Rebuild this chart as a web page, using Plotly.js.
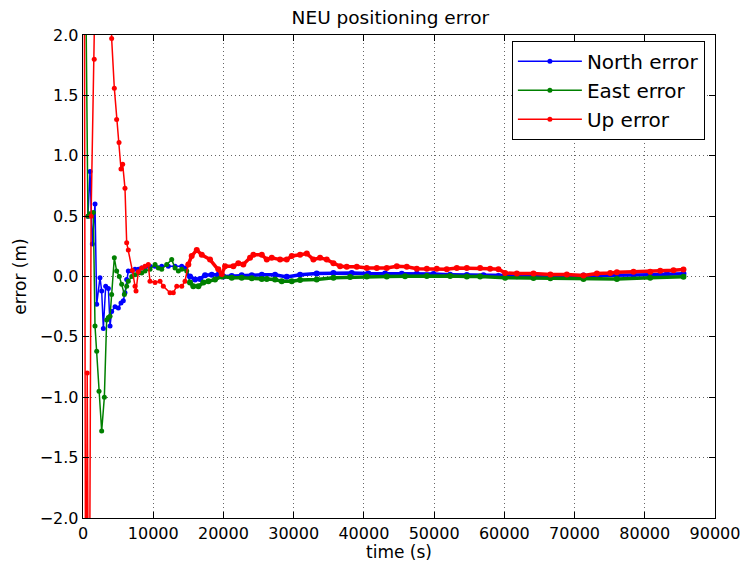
<!DOCTYPE html>
<html>
<head>
<meta charset="utf-8">
<script src="https://cdn.plot.ly/plotly-3.0.1.min.js"></script>
<style>html,body{margin:0;padding:0;background:#fff;}#chart{width:745px;height:562px;}</style>
</head>
<body>
<div id="chart"></div>
<script>
// North error
var northT = [700, 1000, 1330, 1710, 1950, 2420, 2660, 2900, 3230, 3610,
  3850, 4080, 4560, 5030, 5410, 5740, 5980, 6220, 6450, 6940,
  7410, 7880, 8360, 8830, 9540, 10260, 11210, 12150, 13110, 14060,
  14530, 15240, 15950, 16670, 17380, 18330, 19270, 19990, 21180, 22600,
  24030, 25460, 27350, 29020, 30910, 33280, 35660, 38270, 40640, 43020,
  45390, 47540, 49900, 52280, 54660, 57030, 59160, 61780, 64150, 66560,
  68900, 71270, 73650, 76030, 78390, 80770, 83150, 85510];
var northV = [0.5, 0.87, 0.27, 0.6, -0.23, -0.01, -0.12, -0.43, -0.08, -0.1,
  -0.41, -0.29, -0.25, -0.26, -0.22, -0.2, -0.135, -0.025, 0.045, 0.045,
  0.06, 0.06, 0.07, 0.07, 0.085, 0.085, 0.085, 0.085, 0.085, 0.085,
  0.07, 0.0, -0.025, -0.02, 0.01, 0.015, 0.015, 0.0, 0.005, 0.01,
  0.01, 0.015, 0.015, -0.003, 0.015, 0.025, 0.03, 0.03, 0.025, 0.025,
  0.022, 0.022, 0.02, 0.015, 0.012, 0.01, 0.005, 0.003, 0.005, 0.005,
  0.005, 0.008, 0.01, 0.01, 0.012, 0.015, 0.02, 0.022];

// East error
var eastT = [300, 700, 1000, 1470, 1710, 1950, 2280, 2660, 3040, 3370,
  3610, 3850, 4080, 4460, 4790, 5170, 5510, 5890, 6220, 6450,
  6940, 7410, 7880, 8360, 8830, 9540, 10260, 10730, 11210, 11920,
  12630, 13110, 13580, 14060, 14770, 15240, 15710, 16430, 17140, 17850,
  18800, 19760, 21180, 22600, 24030, 25460, 26170, 27350, 28300, 29730,
  30910, 33280, 35660, 38040, 40410, 43260, 45860, 48960, 52280, 54660,
  56550, 60110, 64150, 66560, 71270, 76030, 80770, 85510];
var eastV = [3.0, 0.5, 0.52, 0.53, -0.41, -0.62, -0.95, -1.28, -1.0, -0.36,
  -0.34, -0.33, -0.15, 0.155, 0.045, 0.0, -0.065, -0.15, -0.08, -0.04,
  0.0, 0.015, 0.03, 0.03, 0.045, 0.06, 0.1, 0.07, 0.06, 0.1,
  0.14, 0.07, 0.045, 0.06, 0.045, -0.05, -0.08, -0.08, -0.05, -0.04,
  -0.025, 0.0, -0.01, -0.01, -0.015, -0.02, -0.02, -0.025, -0.04, -0.04,
  -0.03, -0.025, -0.01, -0.005, 0.0, 0.0, 0.003, 0.005, 0.005, 0.0,
  0.0, -0.01, -0.012, -0.015, -0.02, -0.02, -0.01, -0.003];

// Up error
var upT = [150, 400, 600, 850, 1150, 1600, 1800, 2500, 3500, 4080,
  4460, 4790, 5130, 5410, 5650, 5980, 6220, 6450, 7020, 7410,
  7550, 7880, 8360, 8830, 9300, 9540, 10260, 10970, 11440, 12390,
  12860, 13350, 14060, 14530, 15000, 15480, 16200, 16910, 18090, 19270,
  19760, 20230, 21410, 22120, 22830, 23790, 24260, 25460, 26170, 26880,
  28060, 29020, 29730, 30910, 31870, 32810, 33760, 34710, 35660, 36610,
  37560, 38990, 40410, 41840, 43260, 44690, 46110, 47540, 48960, 50380,
  51800, 53230, 54660, 56550, 57980, 59160, 60110, 61780, 64150, 66560,
  68900, 71270, 73180, 75080, 76030, 78390, 80770, 82200, 84090, 85510];
var upV = [4, -4, -0.8, -4, 0.5, 1.8, 4, 5, 4, 1.97,
  1.56, 1.30, 1.11, 0.89, 0.93, 0.73, 0.28, 0.22, 0.05, -0.08,
  -0.12, 0.04, 0.07, 0.085, 0.1, -0.04, -0.05, -0.04, -0.08, -0.135,
  -0.135, -0.08, -0.08, -0.04, 0.1, 0.17, 0.22, 0.18, 0.14, 0.06,
  0.02, 0.085, 0.085, 0.11, 0.1, 0.155, 0.18, 0.18, 0.14, 0.155,
  0.14, 0.14, 0.17, 0.18, 0.19, 0.14, 0.155, 0.14, 0.11, 0.085,
  0.08, 0.08, 0.07, 0.07, 0.07, 0.085, 0.08, 0.065, 0.065, 0.065,
  0.06, 0.07, 0.07, 0.07, 0.065, 0.06, 0.03, 0.025, 0.025, 0.017,
  0.017, 0.008, 0.025, 0.03, 0.035, 0.04, 0.04, 0.047, 0.052, 0.058];

var seriesNames = ['North error', 'East error', 'Up error'];
var seriesColors = ['#0000ff', '#008000', '#ff0000'];
var xTickVals = [0, 10000, 20000, 30000, 40000, 50000, 60000, 70000, 80000, 90000];
var yTickVals = [-2.0, -1.5, -1.0, -0.5, 0.0, 0.5, 1.0, 1.5, 2.0];
var denseFrom = 15000; // after this time the samples are dense and drawn as a thick band

var FONT = 'DejaVu Sans, Liberation Sans, sans-serif';
function split(x, y, name, color) {
  var k = x.findIndex(function (t) { return t >= denseFrom; });
  var early = {x: x.slice(0, k + 1), y: y.slice(0, k + 1), name: name, legendgroup: name,
    type: 'scatter', mode: 'lines+markers',
    line: {color: color, width: 1.5}, marker: {color: color, size: 5}};
  var late = {x: x.slice(k), y: y.slice(k), name: name, legendgroup: name, showlegend: false,
    type: 'scatter', mode: 'lines+markers',
    line: {color: color, width: 3.5}, marker: {color: color, size: 6}};
  return [late, early];
}
var groups = [[northT, northV], [eastT, eastV], [upT, upV]];
var lates = [], earlies = [];
groups.forEach(function (g, i) {
  var tr = split(g[0], g[1], seriesNames[i], seriesColors[i]);
  lates.push(tr[0]); earlies.push(tr[1]);
});
var data = earlies.concat(lates);

var axisCommon = {
  showline: true, linecolor: '#000', linewidth: 1.3, mirror: 'ticks',
  ticks: 'inside', ticklen: 6, tickcolor: '#000', tickwidth: 1,
  showgrid: true, gridcolor: '#666', gridwidth: 1, griddash: '1px,3px',
  zeroline: false, tickfont: {family: FONT, size: 16, color: '#000'}
};
var layout = {
  width: 745, height: 562,
  margin: {l: 83, r: 30, t: 35, b: 44},
  paper_bgcolor: '#fff', plot_bgcolor: '#fff',
  font: {family: FONT, color: '#000'},
  title: {text: 'NEU positioning error', font: {family: FONT, size: 18.5, color: '#000'},
    x: 0.524, xanchor: 'center', y: 0.968, yanchor: 'middle'},
  xaxis: Object.assign({}, axisCommon, {
    range: [0, 90000], tickvals: xTickVals, ticktext: xTickVals.map(String),
    title: {text: 'time (s)', font: {family: FONT, size: 17, color: '#000'}, standoff: 2}
  }),
  yaxis: Object.assign({}, axisCommon, {
    range: [-2, 2], tickvals: yTickVals, tickformat: '.1f',
    title: {text: 'error (m)', font: {family: FONT, size: 17, color: '#000'}, standoff: 8}
  }),
  showlegend: true,
  legend: {x: 0.984, xanchor: 'right', y: 0.988, yanchor: 'top', traceorder: 'normal',
    itemwidth: 64, tracegroupgap: 0,
    bgcolor: '#fff', bordercolor: '#000', borderwidth: 1,
    font: {family: FONT, size: 20, color: '#000'}}
};
Plotly.newPlot('chart', data, layout, {staticPlot: true, displayModeBar: false});
</script>
</body>
</html>
